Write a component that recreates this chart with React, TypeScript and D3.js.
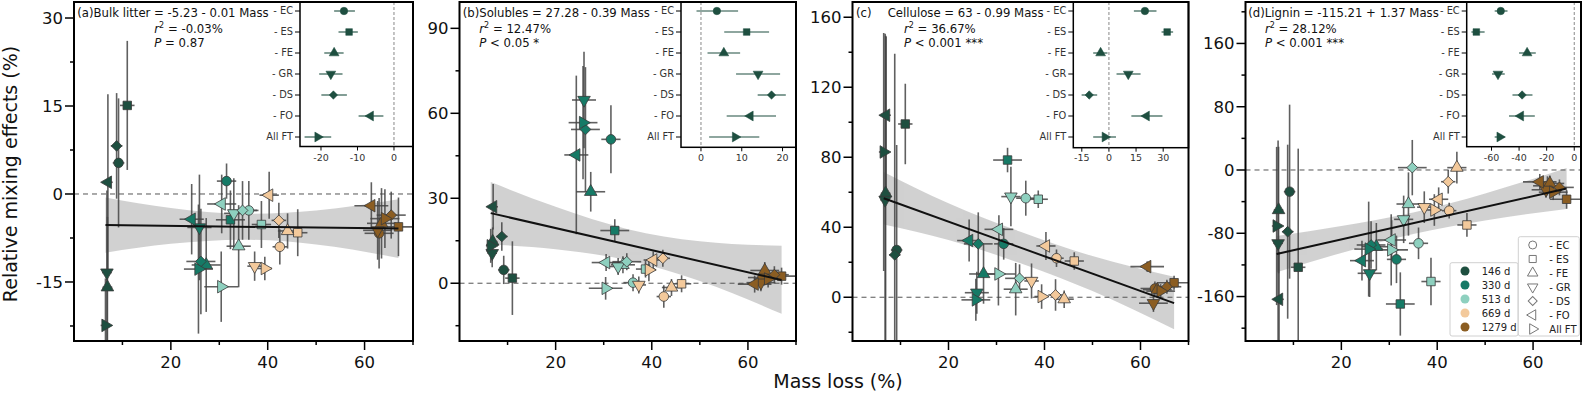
import React from 'react';
import * as d3 from 'd3';

// functional types (columns) and sampling times (rows)
const FT = ['EC', 'ES', 'FE', 'GR', 'DS', 'FO', 'All FT'];
const FT_LABELS = ['- EC', '- ES', '- FE', '- GR', '- DS', '- FO', 'All FT'];
const DAYS = ['146 d', '330 d', '513 d', '669 d', '1279 d'];
const DAY_COLORS = ['#1e4f40', '#167a66', '#8ed0bf', '#f3c99b', '#8b5d22'];

// mass loss (%) per day x FT, shared by all panels
const massLoss = [
  [9.2, 11.0, 6.9, 6.8, 8.8, 7.0, 6.5],
  [31.5, 32.3, 27.3, 25.9, 26.2, 24.3, 25.7],
  [36.1, 38.7, 34.0, 33.0, 34.8, 30.5, 30.4],
  [42.5, 46.2, 44.1, 37.3, 42.3, 40.3, 39.4],
  [63.0, 67.0, 63.5, 62.7, 65.5, 61.4, 64.2],
];
const massLossErr = [
  [1.2, 1.5, 1.0, 1.0, 1.2, 1.0, 1.0],
  [2.0, 3.0, 3.0, 2.5, 3.0, 2.5, 3.0],
  [2.0, 2.0, 2.5, 2.0, 3.0, 3.0, 3.5],
  [1.5, 2.0, 2.0, 1.5, 1.5, 2.0, 1.5],
  [3.0, 3.5, 3.0, 3.0, 3.0, 3.5, 3.0],
];

// (a) bulk litter
const bulkY = [
  [5.3, 15.1, -15.9, -13.4, 8.2, 2.0, -22.4],
  [2.2, -4.4, -12.1, -5.7, -11.5, -4.3, -12.8],
  [-2.8, -5.2, -8.9, -3.3, -2.8, -1.7, -15.8],
  [-9.0, -6.6, -6.3, -12.3, -4.5, -0.2, -12.7],
  [-6.7, -5.6, -5.0, -6.2, -3.6, -2.0, -4.2],
];
const bulkErr = [
  [11, 11, 12, 14, 9, 15, 8],
  [3, 5, 8, 9, 9, 6, 11],
  [5, 4, 7, 6, 5, 5, 6],
  [3, 4, 3, 2.5, 3, 4, 2],
  [6, 5, 6, 5, 4, 4, 5],
];
// (b) solubles
const solY = [
  [4.7, 1.8, 14.7, 10.6, 16.5, 27.0, 13.2],
  [50.8, 18.6, 32.3, 64.7, 54.3, 45.3, 56.7],
  [0.2, 5.0, 6.5, 5.9, 7.6, 7.3, -1.8],
  [-4.7, -0.2, -1.5, -0.6, 8.8, 8.2, 4.7],
  [2.0, 2.5, 4.5, 0.2, 3.0, -0.3, 1.5],
];
const solErr = [
  [5, 13, 5, 5, 5, 8, 6],
  [12, 4, 7, 17, 22, 28, 20],
  [3, 3, 3, 3, 3, 3, 4],
  [4, 3, 3, 3, 3, 3, 4],
  [3, 3, 3, 3, 3, 3, 3],
];
// (c) cellulose
const celY = [
  [27.0, 99.0, 59.4, 55.6, 24.2, 104.0, 83.0],
  [30.5, 78.4, 13.3, 2.6, 30.5, 32.4, -1.5],
  [56.6, 56.0, 4.6, 57.5, 10.8, 38.8, 13.3],
  [22.3, 20.7, -1.1, 9.3, 1.3, 29.3, 0.4],
  [5.0, 8.3, 4.3, -3.4, 6.0, 17.5, 3.5],
];
const celErr = [
  [60, 23, 90, 95, 115, 45, 68],
  [9, 7, 17, 12, 18, 12, 12],
  [10, 5, 15, 17, 8, 8, 18],
  [5, 5, 5, 10, 9, 8, 7],
  [4, 4, 4, 5, 4, 3, 4],
];
// (d) lignin
const ligY = [
  [-27.4, -123.0, -50.6, -92.7, -78.0, -163.5, -70.8],
  [-113.0, -169.4, -97.0, -130.6, -94.8, -114.6, -100.0],
  [-92.7, -141.0, -43.0, -62.4, 3.0, -88.5, -101.0],
  [-51.4, -69.5, 3.0, -47.0, -14.8, -37.0, -50.6],
  [-20.0, -37.0, -17.0, -25.0, -22.0, -15.0, -28.0],
];
const ligErr = [
  [110, 150, 80, 130, 110, 60, 100],
  [30, 40, 30, 30, 30, 25, 60],
  [20, 30, 40, 30, 35, 25, 45],
  [10, 15, 20, 20, 15, 15, 20],
  [12, 12, 10, 10, 10, 10, 10],
];

// regression fits (intercept, slope) and confidence bands
const lineX = [6.5, 67];
const bulkFit = [-5.23, -0.01];
const solFit = [27.28, -0.39];
const celFit = [63, -0.99];
const ligFit = [-115.21, 1.37];
const bandX = [6.5, 20, 35, 50, 67];
const bulkBandLo = [-10.0, -8.5, -7.8, -8.6, -10.9];
const bulkBandHi = [-0.6, -2.4, -3.4, -2.8, -0.9];
const solBandLo = [13.7, 12.0, 8.1, 0.8, -10.8];
const solBandHi = [35.7, 27.0, 19.1, 14.8, 13.2];
const celBandLo = [41.6, 32.7, 19.4, 3.5, -18.3];
const celBandHi = [71.6, 53.7, 37.4, 23.5, 11.7];
const ligBandLo = [-129.3, -104.8, -80.8, -63.7, -49.4];
const ligBandHi = [-83.3, -70.8, -53.8, -29.7, 2.6];

// inset forest plots: mean and interval per FT
const bulkInset = [-13.7, -12.3, -16.4, -17.3, -16.6, -6.4, -20.9];
const bulkInsetLo = [-16.4, -15.2, -19.1, -20.5, -19.9, -9.7, -24.5];
const bulkInsetHi = [-10.7, -9.9, -13.8, -14.1, -12.9, -2.9, -17.2];
const solInset = [3.9, 11.2, 5.6, 14.0, 17.3, 12.1, 8.4];
const solInsetLo = [-1.1, 5.7, 1.6, 8.6, 13.9, 6.3, 2.0];
const solInsetHi = [9.1, 16.7, 9.6, 19.4, 20.8, 18.4, 14.3];
const celInset = [19.9, 32.2, -4.6, 10.7, -10.9, 20.8, -2.2];
const celInsetLo = [13.8, 29.1, -8.7, 4.2, -15.1, 12.4, -8.7];
const celInsetHi = [26.3, 35.5, -0.8, 17.5, -6.5, 29.6, 3.9];
const ligInset = [-53.3, -71.0, -34.2, -55.3, -37.8, -38.8, -54.0];
const ligInsetLo = [-57.7, -74.6, -40.0, -59.6, -44.8, -47.3, -57.7];
const ligInsetHi = [-48.4, -65.0, -27.9, -50.4, -30.3, -28.6, -50.4];

const TOP = 2;
const BOTTOM = 341;
const FONT = 'DejaVu Sans, Verdana, sans-serif';

const PANELS = [
  {
    id: 'a', left: 74, right: 413, yDom: [-25.06, 32.73], yStep: 15,
    ys: bulkY, es: bulkErr, fit: bulkFit, lo: bulkBandLo, hi: bulkBandHi,
    inset: { left: 300, bottom: 146.5, dom: [-25.75, 5.21], ticks: [-20, -10, 0] },
    iv: bulkInset, ilo: bulkInsetLo, ihi: bulkInsetHi,
    tag: '', eq: '(a)Bulk litter = -5.23 - 0.01 Mass', eqDx: 3.3, r2: '-0.03%', p: ' = 0.87', stDx: 80.3,
  },
  {
    id: 'b', left: 459.5, right: 796, yDom: [-20.4, 99.3], yStep: 30,
    ys: solY, es: solErr, fit: solFit, lo: solBandLo, hi: solBandHi,
    inset: { left: 681, bottom: 147.3, dom: [-4.9, 23.3], ticks: [0, 10, 20] },
    iv: solInset, ilo: solInsetLo, ihi: solInsetHi,
    tag: '', eq: '(b)Solubles = 27.28 - 0.39 Mass', eqDx: 3.2, r2: '12.47%', p: ' < 0.05 *', stDx: 19.8,
  },
  {
    id: 'c', left: 852.5, right: 1188.5, yDom: [-25, 168.7], yStep: 40,
    ys: celY, es: celErr, fit: celFit, lo: celBandLo, hi: celBandHi,
    inset: { left: 1073.3, bottom: 147.7, dom: [-19.7, 44], ticks: [-15, 0, 15, 30] },
    iv: celInset, ilo: celInsetLo, ihi: celInsetHi,
    tag: '(c)', eq: 'Cellulose = 63 - 0.99 Mass', eqDx: 35.2, r2: '36.67%', p: ' < 0.001 ***', stDx: 51.5,
  },
  {
    id: 'd', left: 1245.5, right: 1581, yDom: [-216.2, 212.4], yStep: 80,
    ys: ligY, es: ligErr, fit: ligFit, lo: ligBandLo, hi: ligBandHi,
    inset: { left: 1466.7, bottom: 146.7, dom: [-78, 4.9], ticks: [-60, -40, -20, 0] },
    iv: ligInset, ilo: ligInsetLo, ihi: ligInsetHi,
    tag: '', eq: '(d)Lignin = -115.21 + 1.37 Mass', eqDx: 2.8, r2: '28.12%', p: ' < 0.001 ***', stDx: 19.5,
  },
];

const SYM_ROT = [0, 0, 0, 180, 45, -90, 90];
const SYM_SCALE = [1, 1, 0.95, 0.95, 0.8, 0.95, 0.95];

function symbolPath(ft: number, size: number) {
  const type = ft === 0 ? d3.symbolCircle : ft === 1 || ft === 4 ? d3.symbolSquare : d3.symbolTriangle;
  return d3.symbol().type(type).size(size * SYM_SCALE[ft])() as string;
}

function Marker({ x, y, ft, size, fill, stroke, sw }: any) {
  return (
    <path
      d={symbolPath(ft, size)}
      transform={`translate(${x},${y}) rotate(${SYM_ROT[ft]})`}
      fill={fill}
      stroke={stroke}
      strokeWidth={sw}
    />
  );
}

function Inset({ cfg }: any) {
  const ins = cfg.inset;
  const ix = d3.scaleLinear().domain(ins.dom).range([ins.left, cfg.right]);
  const iy = d3.scalePoint().domain(FT).range([11, 137]);
  return (
    <g>
      <rect x={ins.left} y={TOP} width={cfg.right - ins.left} height={ins.bottom - TOP} fill="#fff" stroke="#000" strokeWidth={1.5} />
      <line x1={ix(0)} x2={ix(0)} y1={TOP} y2={ins.bottom} stroke="#888" strokeDasharray="3,2" strokeWidth={1} />
      {FT.map((f, i) => (
        <g key={f}>
          <line x1={ix(cfg.ilo[i])} x2={ix(cfg.ihi[i])} y1={iy(f)} y2={iy(f)} stroke="#1e4f40" strokeWidth={1.1} />
          <Marker x={ix(cfg.iv[i])} y={iy(f)} ft={i} size={44} fill="#1e4f40" stroke="#1e4f40" sw={0.5} />
          <line x1={ins.left - 5} x2={ins.left} y1={iy(f)} y2={iy(f)} stroke="#000" strokeWidth={1} />
          <text x={ins.left - 7} y={iy(f)} dy="0.35em" textAnchor="end" fontSize={9.8} fill="#333" fontFamily={FONT}>
            {FT_LABELS[i]}
          </text>
        </g>
      ))}
      {ins.ticks.map((t: number) => (
        <g key={t}>
          <line x1={ix(t)} x2={ix(t)} y1={ins.bottom} y2={ins.bottom + 4} stroke="#000" strokeWidth={1} />
          <text x={ix(t)} y={161} textAnchor="middle" fontSize={9.5} fill="#333" fontFamily={FONT}>
            {String(t)}
          </text>
        </g>
      ))}
    </g>
  );
}

function Panel({ cfg }: any) {
  const x = d3.scaleLinear().domain([0, 70]).range([cfg.left, cfg.right]);
  const y = d3.scaleLinear().domain(cfg.yDom).range([BOTTOM, TOP]);
  const clipId = `clip-${cfg.id}`;

  const band = d3
    .area<number>()
    .x((d) => x(d))
    .y0((_, i) => y(cfg.lo[i]))
    .y1((_, i) => y(cfg.hi[i]))
    .curve(d3.curveMonotoneX);

  const fitLine = d3
    .line<number>()
    .x((d) => x(d))
    .y((d) => y(cfg.fit[0] + cfg.fit[1] * d));

  const minor = cfg.yStep / 2;
  const yTicks = d3.range(Math.ceil(cfg.yDom[0] / minor) * minor, cfg.yDom[1], minor);
  const xTicks = d3.range(10, 71, 10);
  const isMajor = (v: number, s: number) => Math.abs(v / s - Math.round(v / s)) < 1e-6;

  const pts: any[] = [];
  DAYS.forEach((_, di) => {
    FT.forEach((__, fi) => {
      pts.push({ di, fi, m: massLoss[di][fi], me: massLossErr[di][fi], v: cfg.ys[di][fi], e: cfg.es[di][fi] });
    });
  });

  return (
    <g>
      <defs>
        <clipPath id={clipId}>
          <rect x={cfg.left} y={TOP} width={cfg.right - cfg.left} height={BOTTOM - TOP} />
        </clipPath>
      </defs>
      <g clipPath={`url(#${clipId})`}>
        <path d={band(bandX) as string} fill="#bdbdbd" opacity={0.7} />
        <line x1={cfg.left} x2={cfg.right} y1={y(0)} y2={y(0)} stroke="#555" strokeDasharray="5,4" strokeWidth={1} />
        {pts.map((p) => (
          <g key={`e${p.di}-${p.fi}`} stroke="#454545" strokeWidth={1.6} opacity={0.85}>
            <line x1={x(p.m)} x2={x(p.m)} y1={y(p.v - p.e)} y2={y(p.v + p.e)} />
            <line x1={x(p.m - p.me)} x2={x(p.m + p.me)} y1={y(p.v)} y2={y(p.v)} />
          </g>
        ))}
        {pts.map((p) => (
          <Marker key={`m${p.di}-${p.fi}`} x={x(p.m)} y={y(p.v)} ft={p.fi} size={72} fill={DAY_COLORS[p.di]} stroke="#3a3a3a" sw={0.8} />
        ))}
        <path d={fitLine(lineX) as string} fill="none" stroke="#111" strokeWidth={2} />
      </g>

      {/* y axis ticks */}
      {yTicks.map((v) => {
        const major = isMajor(v, cfg.yStep);
        return (
          <g key={`y${v}`}>
            <line x1={cfg.left - (major ? 9 : 4)} x2={cfg.left} y1={y(v)} y2={y(v)} stroke="#000" strokeWidth={1.5} />
            {major && (
              <text x={cfg.left - 11} y={y(v)} dy="0.36em" textAnchor="end" fontSize={16.5} fontFamily={FONT} fill="#111">
                {String(v)}
              </text>
            )}
          </g>
        );
      })}
      {/* x axis ticks */}
      {xTicks.map((v) => {
        const major = isMajor(v, 20);
        return (
          <g key={`x${v}`}>
            <line x1={x(v)} x2={x(v)} y1={BOTTOM} y2={BOTTOM + (major ? 9 : 4)} stroke="#000" strokeWidth={1.5} />
            {major && (
              <text x={x(v)} y={368} textAnchor="middle" fontSize={16.5} fontFamily={FONT} fill="#111">
                {String(v)}
              </text>
            )}
          </g>
        );
      })}

      <Inset cfg={cfg} />
      <rect x={cfg.left} y={TOP} width={cfg.right - cfg.left} height={BOTTOM - TOP} fill="none" stroke="#000" strokeWidth={2} />

      {/* equation text */}
      <g fontFamily={FONT} fontSize={11.7} fill="#111">
        {cfg.tag && <text x={cfg.left + 3.5} y={16.5}>{cfg.tag}</text>}
        <text x={cfg.left + cfg.eqDx} y={16.5}>{cfg.eq}</text>
        <text x={cfg.left + cfg.stDx} y={32.5}>
          <tspan fontStyle="italic">r</tspan>
          <tspan dy={-5} fontSize={8}>2</tspan>
          <tspan dy={5}>{` = ${cfg.r2}`}</tspan>
        </text>
        <text x={cfg.left + cfg.stDx} y={46.5}>
          <tspan fontStyle="italic">P</tspan>
          <tspan>{cfg.p}</tspan>
        </text>
      </g>
    </g>
  );
}

function Legends() {
  const rowsT = d3.range(DAYS.length).map((i) => 271 + i * 14);
  const rowsS = d3.range(FT.length).map((i) => 245 + i * 14);
  return (
    <g fontFamily={FONT} fontSize={10} fill="#222">
      <rect x={1450} y={262.7} width={68} height={73.3} rx={2} fill="#fff" fillOpacity={0.85} stroke="#d0d0d0" />
      {DAYS.map((d, i) => (
        <g key={d}>
          <circle cx={1465} cy={rowsT[i]} r={4.5} fill={DAY_COLORS[i]} />
          <text x={1481.7} y={rowsT[i]} dy="0.35em">{d}</text>
        </g>
      ))}
      <rect x={1518.3} y={236.7} width={61} height={99.3} rx={2} fill="#fff" fillOpacity={0.85} stroke="#d0d0d0" />
      {FT.map((f, i) => (
        <g key={f}>
          <Marker x={1532.7} y={rowsS[i]} ft={i} size={50} fill="#fff" stroke="#777" sw={1} />
          <text x={1549.3} y={rowsS[i]} dy="0.35em">{FT_LABELS[i]}</text>
        </g>
      ))}
    </g>
  );
}

export default function App() {
  return (
    <svg width={1583} height={393} style={{ display: 'block', position: 'absolute', left: 0, top: 0, background: '#fff' }}>
      <rect width={1583} height={393} fill="#fff" />
      {PANELS.map((p) => (
        <Panel key={p.id} cfg={p} />
      ))}
      <Legends />
      <text transform="translate(17,174) rotate(-90)" textAnchor="middle" fontSize={19} fontFamily={FONT} fill="#111">
        Relative mixing effects (%)
      </text>
      <text x={838} y={388} textAnchor="middle" fontSize={19} fontFamily={FONT} fill="#111">
        Mass loss (%)
      </text>
    </svg>
  );
}
